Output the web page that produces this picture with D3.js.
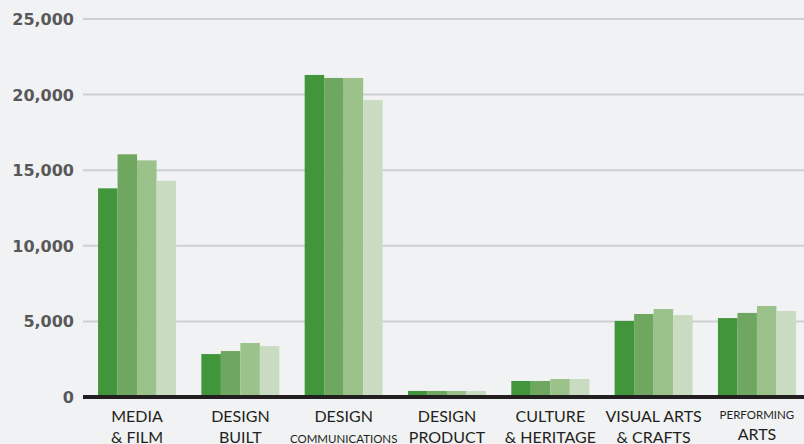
<!DOCTYPE html>
<html>
<head>
<meta charset="utf-8">
<script src="https://cdn.jsdelivr.net/npm/d3@7.9.0/dist/d3.min.js"></script>
<style>
  html, body { margin: 0; padding: 0; background: #f1f2f4; }
  svg { display: block; }
  .ytick { font-family: "DejaVu Sans", sans-serif; font-weight: bold; font-size: 16px; fill: #58585a; }
  .xlab { font-family: Lato, sans-serif; font-size: 16px; fill: #231f20; }
</style>
</head>
<body>
<svg id="chart"></svg>
<script>
// categories, two label lines each (second font size when a line is small)
const categories = ['Media & Film', 'Design Built', 'Design Communications', 'Design Product',
  'Culture & Heritage', 'Visual Arts & Crafts', 'Performing Arts'];
const labelLine1 = ['MEDIA', 'DESIGN', 'DESIGN', 'DESIGN', 'CULTURE', 'VISUAL ARTS', 'PERFORMING'];
const labelLine2 = ['& FILM', 'BUILT', 'COMMUNICATIONS', 'PRODUCT', '& HERITAGE', '& CRAFTS', 'ARTS'];
const smallLabels = ['COMMUNICATIONS', 'PERFORMING'];

const series = ['s1', 's2', 's3', 's4'];
const s1 = [13800, 2840, 21300, 400, 1060, 5030, 5220];
const s2 = [16050, 3040, 21100, 400, 1060, 5490, 5560];
const s3 = [15650, 3570, 21100, 400, 1190, 5820, 6020];
const s4 = [14300, 3370, 19640, 400, 1190, 5420, 5690];
const seriesValues = [s1, s2, s3, s4];
const colors = ['#41953a', '#6fa760', '#9bc28a', '#c9dcc1'];

const yTicks = [0, 5000, 10000, 15000, 20000, 25000];

const width = 804, height = 444;
const svg = d3.select('#chart').attr('width', width).attr('height', height);

const x = d3.scaleBand()
  .domain(categories)
  .range([85.4, 808.6])
  .paddingInner(0.245)
  .paddingOuter(0.1225);

const xs = d3.scaleBand()
  .domain(series)
  .range([0, x.bandwidth()]);

const y = d3.scaleLinear()
  .domain([0, 25000])
  .range([397, 19]);

// gridlines
svg.append('g')
  .selectAll('line')
  .data(yTicks.slice(1))
  .join('line')
  .attr('x1', 83).attr('x2', width)
  .attr('y1', d => y(d)).attr('y2', d => y(d))
  .attr('stroke', '#cfd0d2')
  .attr('stroke-width', 2);

// y labels
svg.append('g')
  .selectAll('text')
  .data(yTicks)
  .join('text')
  .attr('class', 'ytick')
  .attr('x', 74)
  .attr('y', d => y(d) + 6)
  .attr('text-anchor', 'end')
  .text(d => d3.format(',')(d));

// bars
const groups = svg.append('g')
  .selectAll('g')
  .data(categories)
  .join('g')
  .attr('transform', d => `translate(${x(d)},0)`);

groups.selectAll('rect')
  .data((c, i) => series.map((s, j) => ({ s, j, v: seriesValues[j][i] })))
  .join('rect')
  .attr('x', d => xs(d.s))
  .attr('width', xs.bandwidth())
  .attr('y', d => y(d.v))
  .attr('height', d => y(0) - y(d.v))
  .attr('fill', d => colors[d.j]);

// baseline
svg.append('line')
  .attr('x1', 83).attr('x2', width)
  .attr('y1', y(0)).attr('y2', y(0))
  .attr('stroke', '#231f20')
  .attr('stroke-width', 4);

// x labels
const labels = svg.append('g')
  .selectAll('text')
  .data(categories)
  .join('text')
  .attr('class', 'xlab')
  .attr('text-anchor', 'middle')
  .attr('x', d => x(d) + x.bandwidth() / 2);

labels.append('tspan')
  .attr('x', d => x(d) + x.bandwidth() / 2)
  .attr('y', (d, i) => smallLabels.includes(labelLine1[i]) ? 419 : 422)
  .style('font-size', (d, i) => smallLabels.includes(labelLine1[i]) ? '11.5px' : null)
  .text((d, i) => labelLine1[i]);

labels.append('tspan')
  .attr('x', d => x(d) + x.bandwidth() / 2)
  .attr('y', (d, i) => i === 6 ? 440 : 443)
  .style('font-size', (d, i) => smallLabels.includes(labelLine2[i]) ? '11.5px' : null)
  .text((d, i) => labelLine2[i]);
</script>
</body>
</html>
